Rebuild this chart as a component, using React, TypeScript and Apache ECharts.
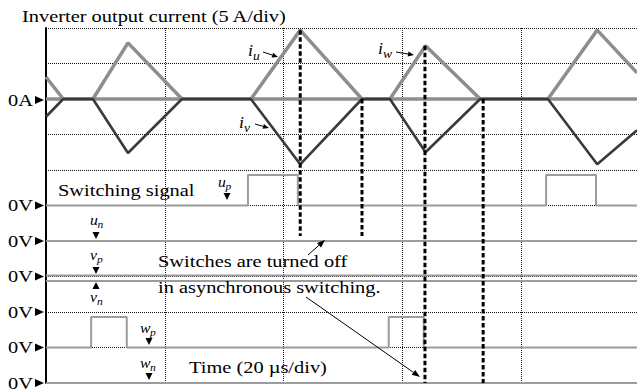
import React, { useEffect, useRef } from "react";
import * as echarts from "echarts";

// ---- oscilloscope capture: 20 µs/div horizontally, 5 A/div for the current channel ----
const T_END = 99.5; // µs visible on screen
const timeTickStep = 20; // µs per division
const currentTickStep = 5; // A per division

// Inverter output currents [time µs, current A]
const iuPoints: [number, number][] = [
  [0, 3.1], [2.9, 0], [34.5, 0], [42.8, 9.7], [53.2, 0], [84.5, 0], [92.8, 9.7], [99.5, 3.7],
];
const ivPoints: [number, number][] = [
  [0, -2.5], [2.9, 0], [7.9, 0], [13.8, -7.6], [22.9, 0], [34.5, 0], [42.8, -9.2], [53.2, 0],
  [57.9, 0], [63.9, -7.5], [73.1, 0], [84.5, 0], [92.8, -9.2], [99.5, -4.4],
];
const iwPoints: [number, number][] = [
  [0, 0], [7.9, 0], [13.8, 7.9], [22.9, 0], [57.9, 0], [63.9, 7.5], [73.1, 0], [99.5, 0],
];

// Gate signals: intervals (µs) during which each switch is on
const upOn: [number, number][] = [[34.0, 42.4], [84.2, 92.6]];
const unOn: [number, number][] = [];
const vpOn: [number, number][] = [];
const vnOn: [number, number][] = [];
const wpOn: [number, number][] = [[7.6, 13.6], [57.7, 63.6]];
const wnOn: [number, number][] = [];

// Turn-off instants marked with dashed lines: [time µs, from A, to A]
const turnOffMarks: [number, number, number][] = [
  [42.8, 9.7, -19.3],
  [53.2, 0, -19.3],
  [63.8, 7.5, -40],
  [73.6, 0, -40],
];

// ---- layout ----
const W = 637;
const H = 392;
const GRID_LEFT = 46;
const GRID_TOP = 28;
const GRID_BOTTOM_Y = 383;
const DIV_PX = (GRID_BOTTOM_Y - GRID_TOP) / 10;
const GATE_HIGH = 0.86; // pulse height of a gate trace, in divisions
const SERIF = "'Liberation Serif', 'Times New Roman', serif";
const STRETCH = 1.2; // horizontal stretch of the lettering

// gate channel baselines, in divisions counted from the bottom of the screen
const gateChannels: { on: [number, number][]; base: number }[] = [
  { on: upOn, base: 5 },
  { on: unOn, base: 4 },
  { on: vpOn, base: 3.03 },
  { on: vnOn, base: 2.87 },
  { on: wpOn, base: 1 },
  { on: wnOn, base: 0 },
];
const zeroVoltRows = [5, 4, 3, 2, 1, 0];
const zeroAmpRow = 8;

const yOfDiv = (d: number) => GRID_TOP + (10 - d) * DIV_PX;

function gateTrace(on: [number, number][], base: number): [number, number][] {
  const pts: [number, number][] = [[0, base]];
  on.forEach(([a, b]) => {
    pts.push([a, base], [a, base + GATE_HIGH], [b, base + GATE_HIGH], [b, base]);
  });
  pts.push([T_END, base]);
  return pts;
}

function text(str: string, x: number, baseline: number, size: number, opt: any = {}) {
  return {
    type: "text",
    x,
    y: baseline - 0.3375 * size,
    scaleX: opt.scaleX ?? STRETCH,
    z: 100,
    style: {
      text: str,
      fill: "#000",
      fontSize: size,
      fontFamily: SERIF,
      fontStyle: opt.italic ? "italic" : "normal",
      textAlign: opt.align || "left",
      align: opt.align || "left",
      textVerticalAlign: "middle",
      verticalAlign: "middle",
    },
  };
}

function subLabel(main: string, sub: string, x: number, baseline: number, size: number, subSize: number, subDx: number) {
  return [
    text(main, x, baseline, size, { italic: true, scaleX: 1.05 }),
    text(sub, x + subDx, baseline + size * 0.22, subSize, { italic: true, scaleX: 1.05 }),
  ];
}

function arrow(x1: number, y1: number, x2: number, y2: number, head = 7, half = 3, width = 1) {
  const a = Math.atan2(y2 - y1, x2 - x1);
  const bx = x2 - head * Math.cos(a);
  const by = y2 - head * Math.sin(a);
  const px = -Math.sin(a) * half;
  const py = Math.cos(a) * half;
  return [
    { type: "line", z: 100, shape: { x1, y1, x2: bx, y2: by }, style: { stroke: "#000", lineWidth: width } },
    {
      type: "polygon",
      z: 100,
      shape: { points: [[x2, y2], [bx + px, by + py], [bx - px, by - py]] },
      style: { fill: "#000" },
    },
  ];
}

function rightMarker(y: number) {
  return {
    type: "polygon",
    z: 100,
    shape: { points: [[35, y - 4], [35, y + 4], [44, y]] },
    style: { fill: "#000" },
  };
}

function downMarker(cx: number, top: number, up = false) {
  const pts = up
    ? [[cx, top], [cx - 3.5, top + 7], [cx + 3.5, top + 7]]
    : [[cx - 3.5, top], [cx + 3.5, top], [cx, top + 7]];
  return { type: "polygon", z: 100, shape: { points: pts }, style: { fill: "#000" } };
}

const gridLine = { show: true, lineStyle: { color: "#111", width: 1, type: [1, 1] } };

function buildOption() {
  const series: any[] = [];

  const gateColor = "#9c9c9c";
  gateChannels.forEach((ch) => {
    series.push({
      type: "line",
      yAxisIndex: 1,
      data: gateTrace(ch.on, ch.base),
      symbol: "none",
      lineStyle: { color: gateColor, width: 2 },
      z: 3,
    });
  });

  [iuPoints, iwPoints].forEach((pts) => {
    series.push({
      type: "line",
      yAxisIndex: 0,
      data: pts,
      symbol: "none",
      lineStyle: { color: "#8e8e8e", width: 3.5 },
      z: 4,
    });
  });
  series.push({
    type: "line",
    yAxisIndex: 0,
    data: ivPoints,
    symbol: "none",
    lineStyle: { color: "#3a3a3a", width: 2.6 },
    z: 5,
  });

  turnOffMarks.forEach(([t, a, b]) => {
    series.push({
      type: "line",
      yAxisIndex: 0,
      data: [[t, a], [t, b]],
      symbol: "none",
      lineStyle: { color: "#000", width: 3, type: [4.5, 2.5] },
      z: 6,
    });
  });

  const graphic: any[] = [
    text("Inverter output current (5 A/div)", 22, 21.7, 17),
    text("Switching signal", 58, 196, 17),
    text("Switches are turned off", 158, 267, 17),
    text("in asynchronous switching.", 158, 293, 17),
    text("Time (20 \u00b5s/div)", 189, 373, 17),
    text("0A", 33, yOfDiv(zeroAmpRow) + 6.7, 17, { align: "right" }),
    rightMarker(yOfDiv(zeroAmpRow) + 1),
    ...zeroVoltRows.flatMap((r) => [
      text("0V", 33, yOfDiv(r) + 5.5, 17, { align: "right" }),
      rightMarker(yOfDiv(r)),
    ]),
    ...subLabel("i", "u", 248, 56, 17, 13, 5),
    ...subLabel("i", "v", 239, 128, 17, 13, 5),
    ...subLabel("i", "w", 378, 54, 17, 13, 5),
    ...subLabel("u", "p", 218, 187, 15, 11, 7.5),
    ...subLabel("u", "n", 90, 225, 15, 11, 7.5),
    ...subLabel("v", "p", 90, 260, 15, 11, 7),
    ...subLabel("v", "n", 90, 302, 15, 11, 7),
    ...subLabel("w", "p", 140, 333, 15, 11, 10),
    ...subLabel("w", "n", 140, 368, 15, 11, 10),
    downMarker(227, 193),
    downMarker(96, 232),
    downMarker(96, 267),
    downMarker(96, 282, true),
    downMarker(149, 338),
    downMarker(149, 373),
    ...arrow(263, 52, 278, 57, 6, 2.5),
    ...arrow(255, 124, 269, 128, 6, 2.5),
    ...arrow(396, 52, 414, 55, 6, 2.5),
    ...arrow(308, 255, 325, 240, 8, 3),
    ...arrow(306, 297, 420, 377, 8, 3),
  ];

  return {
    animation: false,
    backgroundColor: "#fff",
    grid: { left: GRID_LEFT, top: GRID_TOP, right: 0, bottom: H - GRID_BOTTOM_Y, containLabel: false },
    xAxis: {
      type: "value",
      min: 0,
      max: T_END,
      interval: timeTickStep,
      axisLine: { show: false },
      axisTick: { show: false },
      axisLabel: { show: false },
      splitLine: gridLine,
    },
    yAxis: [
      {
        type: "value",
        min: -40,
        max: 10,
        interval: currentTickStep,
        axisLine: { show: true, lineStyle: { color: "#000", width: 2 } },
        axisTick: { show: false },
        axisLabel: { show: false },
        splitLine: gridLine,
      },
      { type: "value", min: 0, max: 10, show: false, splitLine: { show: false } },
    ],
    series,
    graphic,
  };
}

export default function App() {
  const ref = useRef<HTMLDivElement>(null);
  useEffect(() => {
    const chart = echarts.init(ref.current!, null, { renderer: "svg", width: W, height: H });
    chart.setOption(buildOption() as any);
    return () => chart.dispose();
  }, []);
  return (
    <div
      ref={ref}
      style={{ position: "absolute", left: 0, top: 0, width: W, height: H, background: "#fff" }}
    />
  );
}
